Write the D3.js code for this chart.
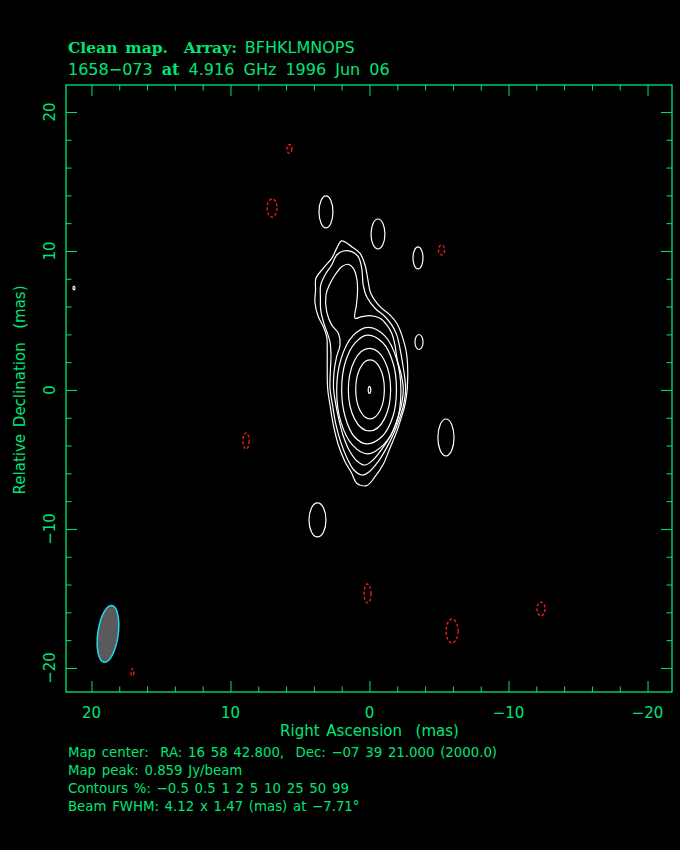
<!DOCTYPE html>
<html>
<head>
<meta charset="utf-8">
<script src="https://cdn.jsdelivr.net/npm/d3@7"></script>
<style>
body { margin: 0; background: #000; }
svg { display: block; }
text { font-family: "DejaVu Sans", sans-serif; fill: #00e676; }
</style>
</head>
<body>
<div id="chart"></div>
<script>
// contour levels (% of peak)
var levels = [-0.5, 0.5, 1, 2, 5, 10, 25, 50, 99];

// traced contours around the core, [RA mas, Dec mas]
var c05 = [[2.00,10.72],[1.28,10.31],[0.68,9.83],[0.32,8.99],[0.09,7.79],[-0.09,6.96],[-0.76,5.99],[-1.47,5.40],[-1.96,4.80],[-2.32,3.96],[-2.68,2.52],[-2.72,0.14],[-2.55,-1.08],[-2.19,-2.30],[-1.96,-3.00],[-1.47,-4.19],[-0.99,-5.35],[-0.40,-6.24],[0.20,-6.88],[0.92,-6.71],[1.28,-5.99],[1.76,-5.16],[2.24,-3.96],[2.60,-2.52],[2.84,-1.08],[3.01,0.12],[3.04,1.56],[3.04,2.73],[3.08,3.83],[3.32,4.55],[3.68,5.27],[3.92,6.26],[3.88,7.19],[3.85,8.04],[3.32,8.76],[2.72,9.47],[2.36,10.19]];
var c1 = [[1.88,10.00],[1.28,9.95],[0.81,9.59],[0.56,8.76],[0.45,7.55],[0.20,6.71],[-0.40,5.88],[-1.12,5.27],[-1.60,4.68],[-1.96,3.96],[-2.19,3.00],[-2.34,2.16],[-2.60,0.14],[-2.45,-1.08],[-2.12,-2.16],[-1.76,-3.09],[-1.19,-4.24],[-0.61,-5.18],[0.04,-5.90],[0.54,-6.12],[1.12,-5.76],[1.62,-4.89],[2.05,-3.81],[2.41,-2.52],[2.66,-1.08],[2.84,0.14],[2.81,1.44],[2.77,2.52],[2.84,3.45],[3.06,4.17],[3.31,4.89],[3.51,5.76],[3.53,6.62],[3.51,7.55],[3.20,8.27],[2.72,8.99],[2.36,9.71]];
var c2 = [[1.53,9.04],[1.17,8.76],[0.92,8.04],[0.86,7.07],[0.94,6.12],[1.04,5.16],[0.56,5.27],[-0.04,5.35],[-0.76,5.16],[-1.24,4.68],[-1.60,4.08],[-1.83,3.24],[-2.00,2.16],[-2.27,1.15],[-2.43,0.14],[-2.30,-1.08],[-1.98,-2.16],[-1.55,-3.24],[-0.90,-4.24],[-0.25,-5.04],[0.32,-5.40],[0.90,-5.11],[1.47,-4.32],[1.91,-3.24],[2.23,-2.01],[2.48,-0.72],[2.59,0.14],[2.55,1.29],[2.37,2.37],[2.12,3.24],[2.24,4.08],[2.72,4.68],[3.08,5.63],[3.13,6.83],[2.89,7.55],[2.48,8.27],[2.00,8.87]];
var c5 = [[0.10,4.50],[-1.10,3.89],[-1.95,2.23],[-2.26,-0.05],[-1.95,-2.33],[-1.00,-3.95],[0.15,-4.60],[1.20,-3.99],[2.05,-2.33],[2.36,-0.05],[2.05,2.23],[1.20,3.89]];
var c10 = [[0.15,3.95],[-0.96,3.40],[-1.68,1.99],[-1.94,0.03],[-1.68,-1.93],[-0.90,-3.35],[0.20,-3.88],[1.10,-3.35],[1.75,-1.93],[2.00,0.03],[1.74,1.99],[1.02,3.40]];

// isolated positive islands, 25% / 50% rings and the 99% peak: centre and half sizes in mas
var posRa  = [3.13, -0.61, -3.49, -3.56, -5.50, 3.74, 21.26, 0.00, -0.04, 0.00];
var posDec = [12.81, 11.22, 9.50, 3.45, -3.42, -9.35, 7.34, 0.02, 0.04, 0.00];
var posRx  = [0.50, 0.50, 0.36, 0.29, 0.58, 0.61, 0.07, 1.52, 1.03, 0.09];
var posRy  = [1.15, 1.08, 0.79, 0.54, 1.33, 1.22, 0.14, 2.97, 2.12, 0.24];

// negative (-0.5%) islands
var negRa  = [5.76, 7.01, -5.18, 8.88, 0.14, -5.94, -12.34, 17.05];
var negDec = [17.34, 13.09, 10.07, -3.67, -14.64, -17.34, -15.76, -20.32];
var negRx  = [0.18, 0.36, 0.22, 0.22, 0.25, 0.43, 0.29, 0.11];
var negRy  = [0.32, 0.65, 0.36, 0.58, 0.68, 0.86, 0.50, 0.25];

// restoring beam
var beamMajor = 4.12, beamMinor = 1.47, beamPA = -7.71;
var beamPos = [18.81, -17.55];

// ticks
var majorTicks = [20, 10, 0, -10, -20];
var tickLabels = ["20", "10", "0", "\u221210", "\u221220"];
var minorTicks = [18, 16, 14, 12, 8, 6, 4, 2, -2, -4, -6, -8, -12, -14, -16, -18];

var green = "#00e676";

var svg = d3.select("#chart").append("svg").attr("width", 680).attr("height", 850),
    margin = {top: 85, left: 66},
    width = 606,
    height = 607,
    g = svg.append("g").attr("transform", "translate(" + margin.left + "," + margin.top + ")");

svg.insert("rect", ":first-child").attr("width", 680).attr("height", 850).attr("fill", "#000");

var x = d3.scaleLinear().domain([21.83, -21.76]).range([0, width]);
var y = d3.scaleLinear().domain([-21.73, 21.94]).range([height, 0]);

// titles
var t1 = svg.append("text").attr("x", 68).attr("y", 53).style("font-size", "16px").style("word-spacing", "2.5px");
t1.append("tspan").style("font-family", "DejaVu Serif").style("font-weight", "bold").style("font-size", "15.5px")
  .attr("xml:space", "preserve").text("Clean map.  Array: ");
t1.append("tspan").text("BFHKLMNOPS");
var t2 = svg.append("text").attr("x", 68).attr("y", 75).style("font-size", "16px").style("word-spacing", "4px");
t2.append("tspan").text("1658\u2212073 ");
t2.append("tspan").style("font-family", "DejaVu Serif").style("font-weight", "bold").text("at");
t2.append("tspan").text(" 4.916 GHz 1996 Jun 06");

// frame with inward ticks on all sides
function frameAxis(axis, tr, vals, size) {
  g.append("g").attr("transform", tr)
    .call(axis.tickValues(vals).tickSize(size).tickFormat(""))
    .call(function(s){ s.select(".domain").remove(); s.selectAll("line").attr("stroke", green); });
}
frameAxis(d3.axisBottom(x), "translate(0," + height + ")", majorTicks, -11);
frameAxis(d3.axisBottom(x), "translate(0," + height + ")", minorTicks, -5.5);
frameAxis(d3.axisTop(x), "translate(0,0)", majorTicks, -11);
frameAxis(d3.axisTop(x), "translate(0,0)", minorTicks, -5.5);
frameAxis(d3.axisLeft(y), "translate(0,0)", majorTicks, -11);
frameAxis(d3.axisLeft(y), "translate(0,0)", minorTicks, -5.5);
frameAxis(d3.axisRight(y), "translate(" + width + ",0)", majorTicks, -11);
frameAxis(d3.axisRight(y), "translate(" + width + ",0)", minorTicks, -5.5);

g.append("rect").attr("width", width).attr("height", height)
  .attr("fill", "none").attr("stroke", green).attr("stroke-width", 1.3);

// tick labels
g.selectAll(".xl").data(majorTicks).join("text").attr("class", "xl")
  .attr("x", function(d){ return x(d); }).attr("y", height + 26)
  .attr("text-anchor", "middle").style("font-size", "15px")
  .text(function(d, i){ return tickLabels[i]; });
g.selectAll(".yl").data(majorTicks).join("text").attr("class", "yl")
  .attr("transform", function(d){ return "translate(-11," + y(d) + ") rotate(-90)"; })
  .attr("text-anchor", "middle").style("font-size", "15px")
  .text(function(d, i){ return tickLabels[i]; });

g.append("text").attr("x", x(0)).attr("y", height + 44).attr("text-anchor", "middle")
  .style("font-size", "15px").style("word-spacing", "2px").attr("xml:space", "preserve").text("Right Ascension  (mas)");
g.append("text").attr("transform", "translate(-41," + y(0) + ") rotate(-90)").attr("text-anchor", "middle")
  .style("font-size", "15px").style("word-spacing", "2px").attr("xml:space", "preserve").text("Relative Declination  (mas)");

// contours
var line = d3.line()
  .x(function(d){ return x(d[0]); })
  .y(function(d){ return y(d[1]); })
  .curve(d3.curveCatmullRomClosed.alpha(0.5));

[c05, c1, c2, c5, c10].forEach(function(c){
  g.append("path").datum(c).attr("d", line)
    .attr("fill", "none").attr("stroke", "#fff").attr("stroke-width", 1.2);
});

g.selectAll(".pos").data(posRa).join("ellipse").attr("class", "pos")
  .attr("cx", function(d){ return x(d); })
  .attr("cy", function(d, i){ return y(posDec[i]); })
  .attr("rx", function(d, i){ return x(0) - x(posRx[i]); })
  .attr("ry", function(d, i){ return y(0) - y(posRy[i]); })
  .attr("fill", "none").attr("stroke", "#fff").attr("stroke-width", 1.2);

g.selectAll(".neg").data(negRa).join("ellipse").attr("class", "neg")
  .attr("cx", function(d){ return x(d); })
  .attr("cy", function(d, i){ return y(negDec[i]); })
  .attr("rx", function(d, i){ return x(0) - x(negRx[i]); })
  .attr("ry", function(d, i){ return y(0) - y(negRy[i]); })
  .attr("fill", "none").attr("stroke", "#ff1a1a").attr("stroke-width", 1.3)
  .attr("stroke-dasharray", "3,2");

// beam
var bx = x(beamPos[0]), by = y(beamPos[1]);
g.append("ellipse").attr("cx", bx).attr("cy", by)
  .attr("rx", x(0) - x(beamMinor / 2)).attr("ry", y(0) - y(beamMajor / 2))
  .attr("transform", "rotate(" + (-beamPA) + "," + bx + "," + by + ")")
  .attr("fill", "#5a5a5a").attr("stroke", "#20d8ec").attr("stroke-width", 1.5);

// footer
var info = [
  "Map center:  RA: 16 58 42.800,  Dec: \u221207 39 21.000 (2000.0)",
  "Map peak: 0.859 Jy/beam",
  "Contours %: " + levels.map(function(v){ return String(v).replace("-", "\u2212"); }).join(" "),
  "Beam FWHM: " + beamMajor + " x " + beamMinor + " (mas) at " + String(beamPA).replace("-", "\u2212") + "\u00b0"
];
svg.selectAll(".info").data(info).join("text").attr("class", "info")
  .attr("x", 68).attr("y", function(d, i){ return 757 + i * 18; })
  .attr("xml:space", "preserve").style("font-size", "13.3px").style("word-spacing", "1.5px")
  .text(function(d){ return d; });
</script>
</body>
</html>
